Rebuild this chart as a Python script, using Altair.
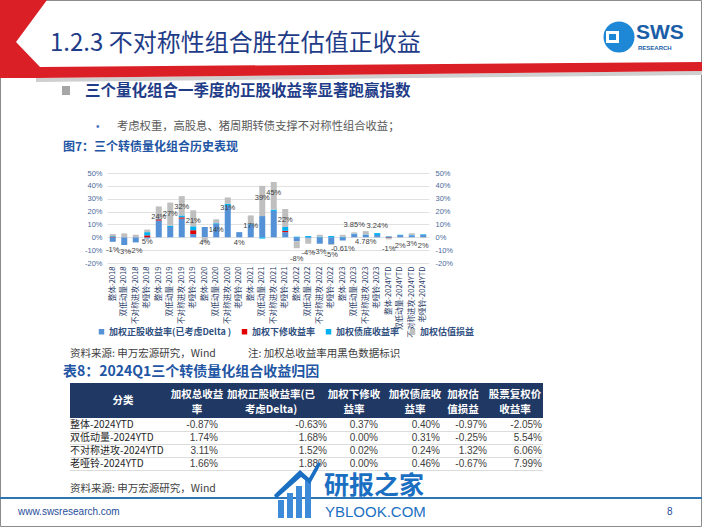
import altair as alt
import pandas as pd

# ---------------- data ----------------
categories = [
    "整体-2018", "双低动量-2018", "不对称进攻-2018", "老哑铃-2018",
    "整体-2019", "双低动量-2019", "不对称进攻-2019", "老哑铃-2019",
    "整体-2020", "双低动量-2020", "不对称进攻-2020", "老哑铃-2020",
    "整体-2021", "双低动量-2021", "不对称进攻-2021", "老哑铃-2021",
    "整体-2022", "双低动量-2022", "不对称进攻-2022", "老哑铃-2022",
    "整体-2023", "双低动量-2023", "不对称进攻-2023", "老哑铃-2023",
    "整体-2024YTD", "双低动量-2024YTD", "不对称进攻-2024YTD", "老哑铃-2024YTD",
]
equity = [-3.5, -6.0, -4.0, -1.0, 13.0, 8.0, 14.5, 2.5, 8.0, 10.5, 24.5, 4.0,
          10.0, 16.5, 20.5, 4.0, -3.0, -1.0, -5.0, -5.5, -2.5, 2.5, 2.0, 1.74,
          -0.63, 1.68, 1.52, 1.88]
downrev = [0.5, 0.0, 0.0, 1.5, 1.0, 0.0, 1.0, 3.0, 0.0, 0.0, 0.0, 0.0,
           0.0, 0.0, 0.0, 1.0, 0.0, 0.0, 0.0, 0.0, 0.0, 0.0, 0.0, 0.0,
           0.37, 0.00, 0.02, 0.00]
bondfloor = [0.5, 0.0, 0.0, 2.5, 0.5, 1.0, 1.5, 3.0, 0.0, 0.5, 1.5, 0.0,
             0.5, -1.0, 1.0, 3.0, 0.5, 1.0, 0.5, 1.0, 0.39, 0.35, 0.28, 1.5,
             0.40, 0.31, 0.24, 0.46]
valuation = [1.5, 3.0, 2.0, 2.0, 9.5, 18.0, 15.0, 12.5, -4.0, 3.0, 5.0, 0.0,
             6.5, 23.5, 21.5, 14.0, -5.5, -4.0, 1.5, -0.5, 1.5, 1.0, 2.5, 0.0,
             -0.97, -0.25, 1.32, -0.67]
total_labels = ["-1%", "-3%", "-2%", "5%", "24%", "27%", "32%", "21%",
                "4%", "14%", "31%", "4%", "17%", "39%", "45%", "22%",
                "-8%", "-4%", "-3%", "-5%", "-0.61%", "3.85%", "4.78%", "3.24%",
                "-1%", "2%", "3%", "2%"]
labels_above = ["双低动量-2023", "老哑铃-2023"]
series_names = ["加权正股收益率(已考虑Delta )", "加权下修收益率", "加权债底收益率", "加权估值损益"]
series_colors = ["#5591D6", "#E00000", "#00B0F0", "#BFBFBF"]
y_ticks = [-20, -10, 0, 10, 20, 30, 40, 50]

table_cats = ["整体-2024YTD", "双低动量-2024YTD", "不对称进攻-2024YTD", "老哑铃-2024YTD"]
tbl_total = ["-0.87%", "1.74%", "3.11%", "1.66%"]
tbl_equity = ["-0.63%", "1.68%", "1.52%", "1.88%"]
tbl_down = ["0.37%", "0.00%", "0.02%", "0.00%"]
tbl_bond = ["0.40%", "0.31%", "0.24%", "0.46%"]
tbl_val = ["-0.97%", "-0.25%", "1.32%", "-0.67%"]
tbl_stock = ["-2.05%", "5.54%", "6.06%", "7.99%"]

# ---------------- tables for the chart ----------------
rows = []
for i, c in enumerate(categories):
    for k, vals in enumerate([equity, downrev, bondfloor, valuation]):
        rows.append({"cat": c, "series": series_names[k], "ord": k, "value": vals[i]})
df = pd.DataFrame(rows)
tot = pd.DataFrame({
    "cat": categories,
    "total": [equity[i] + downrev[i] + bondfloor[i] + valuation[i] for i in range(len(categories))],
    "label": total_labels,
    "above": [c in labels_above for c in categories],
})

CJK = "Noto Sans CJK SC"
LAT = "Liberation Sans"
NARROW = "Liberation Sans Narrow, Liberation Sans"
AXC = "#4A6A9A"
OX, OY = 107, 173  # page position of the plot origin

yscale = alt.Scale(domain=[-20, 50], nice=False, zero=False)
xenc = alt.X("cat:N", sort=categories,
             scale=alt.Scale(paddingInner=0, paddingOuter=0),
             axis=alt.Axis(title=None, labelAngle=-90, labelFontSize=7.6, labelColor="#1F3864",
                           labelFont=CJK, domain=False, ticks=False, labelPadding=3,
                           labelOverlap=False, labelBound=False, labelLimit=200))

bars = alt.Chart(df).mark_bar(size=6).encode(
    x=xenc,
    y=alt.Y("value:Q", stack="zero", scale=yscale,
            axis=alt.Axis(title=None, values=y_ticks, labelExpr="datum.value + '%'",
                          labelFontSize=7.5, labelColor=AXC, labelFont=LAT, domain=False,
                          ticks=False, gridColor="#D9D9D9", gridWidth=0.8, labelPadding=5)),
    color=alt.Color("series:N", scale=alt.Scale(domain=series_names, range=series_colors),
                    legend=alt.Legend(title=None, orient="none", legendX=-10, legendY=154,
                                      direction="horizontal", columns=4, symbolType="square",
                                      symbolSize=30, symbolStrokeWidth=0, labelFontSize=9,
                                      labelFontWeight="bold", labelColor="#2F4F7F",
                                      labelFont=CJK, columnPadding=8, labelOffset=3)),
    order=alt.Order("ord:Q"),
)

right_axis = alt.Chart(tot).mark_point(opacity=0).encode(
    x=alt.X("cat:N", sort=categories),
    y=alt.Y("total:Q", scale=yscale,
            axis=alt.Axis(orient="right", title=None, values=y_ticks,
                          labelExpr="datum.value + '%'", grid=False, domain=False, ticks=False,
                          labelFontSize=7.5, labelColor=AXC, labelFont=LAT, labelPadding=6)),
)

lab_below = alt.Chart(tot).transform_filter("!datum.above").mark_text(
    dy=11, fontSize=7.5, color="#404040", font=LAT).encode(
    x=alt.X("cat:N", sort=categories),
    y=alt.Y("total:Q", scale=yscale, axis=None),
    text="label:N")
lab_above = alt.Chart(tot).transform_filter("datum.above").mark_text(
    dy=-7, fontSize=7.5, color="#404040", font=LAT).encode(
    x=alt.X("cat:N", sort=categories),
    y=alt.Y("total:Q", scale=yscale, axis=None),
    text="label:N")

# ---------------- slide decoration helpers ----------------
ONE = alt.Data(values=[{"k": 1}])


def text_at(s, x, y, size, color, weight="normal", align="left", font=CJK, baseline="middle"):
    return alt.Chart(ONE).mark_text(text=s, fontSize=size, color=color, fontWeight=weight,
                                    align=align, baseline=baseline, font=font).encode(
        x=alt.value(x - OX), y=alt.value(y - OY))


def rect_at(x1, y1, x2, y2, fill, stroke=None, sw=0, fill_opacity=1):
    kw = dict(fill=fill, fillOpacity=fill_opacity, strokeWidth=sw)
    if stroke:
        kw["stroke"] = stroke
    return alt.Chart(ONE).mark_rect(**kw).encode(
        x=alt.value(x1 - OX), x2=alt.value(x2 - OX),
        y=alt.value(y1 - OY), y2=alt.value(y2 - OY))


def shape_at(path, fill):
    return alt.Chart(ONE).mark_point(shape=path, size=4, filled=True, color=fill,
                                     opacity=1, strokeWidth=0).encode(
        x=alt.value(-OX), y=alt.value(-OY))


def dot_at(x, y, diam, fill):
    return alt.Chart(ONE).mark_point(shape="circle", size=diam * diam, filled=True,
                                     color=fill, opacity=1, strokeWidth=0).encode(
        x=alt.value(x - OX), y=alt.value(y - OY))


BLUE_T = "#1F3C88"
deco = []
# slide frame
deco.append(rect_at(0.5, 0.5, 701.5, 526.5, "white", stroke="#8C8C8C", sw=1, fill_opacity=0))
# red banner with shadow
deco.append(shape_at("M36,78 L702,71 L702,75 L36,82 Z", "#CFCFCF"))
deco.append(shape_at("M0,0 L47,0 L16,42 L40,67 L702,62 L702,71 L36,78 L0,78 Z", "#DA1F26"))
# title
deco.append(text_at("1.2.3 不对称性组合胜在估值正收益", 50, 44, 24, BLUE_T))
# logo
deco.append(dot_at(619, 37, 31, "#1E88D6"))
deco.append(rect_at(606, 31, 619, 43, "white"))
deco.append(rect_at(609, 34, 616, 40, "#1E88D6"))
deco.append(text_at("SWS", 636, 33, 21, "#1A5EA8", weight="bold", font=LAT))
deco.append(text_at("RESEARCH", 638, 48, 6, "#1A5EA8", weight="bold", font=LAT))
# subtitle
deco.append(rect_at(62, 86, 70, 95, "#A6A6A6"))
deco.append(text_at("三个量化组合一季度的正股收益率显著跑赢指数", 85, 91, 15.5, BLUE_T, weight="bold"))
deco.append(text_at("•", 96, 127, 10, "#4472C4", font=LAT))
deco.append(text_at("考虑权重，高股息、猪周期转债支撑不对称性组合收益；", 117, 127, 11.3, "#595959"))
deco.append(text_at("图7：三个转债量化组合历史表现", 63, 147, 12, "#2255A4", weight="bold"))
# notes
deco.append(text_at("资料来源: 申万宏源研究，Wind", 70, 354, 10.5, "#404040"))
deco.append(text_at("注: 加权总收益率用黑色数据标识", 248, 354, 10.5, "#404040"))
deco.append(text_at("表8：2024Q1三个转债量化组合收益归因", 63, 372, 14, "#2255A4", weight="bold"))

# table
deco.append(rect_at(70, 383, 543, 418, "#1F3864"))
HW = "white"
deco.append(text_at("分类", 123, 401, 10.5, HW, weight="bold", align="center"))
headers = [("加权总收益", "率", 197), ("加权正股收益率(已", "考虑Delta)", 271),
           ("加权下修收", "益率", 354), ("加权债底收", "益率", 415),
           ("加权估", "值损益", 463), ("股票复权价", "收益率", 515)]
for h1, h2, hx in headers:
    deco.append(text_at(h1, hx, 395, 10.5, HW, weight="bold", align="center"))
    deco.append(text_at(h2, hx, 410, 10.5, HW, weight="bold", align="center"))
tbl_right = [218, 327, 378, 440, 487, 542]
row_y = [425, 438, 451, 464]
cols = [tbl_total, tbl_equity, tbl_down, tbl_bond, tbl_val, tbl_stock]
for r in range(len(table_cats)):
    deco.append(rect_at(70, row_y[r] + 6, 543, row_y[r] + 6.8, "#D0D0D0"))
    deco.append(text_at(table_cats[r], 70, row_y[r], 10, "#262626"))
    for j, col in enumerate(cols):
        deco.append(text_at(col[r], tbl_right[j], row_y[r], 10, "#404040", align="right", font=NARROW))

deco.append(text_at("资料来源: 申万宏源研究，Wind", 70, 489, 10.5, "#404040"))
# footer
deco.append(rect_at(0, 497, 702, 499, "#2E75B6"))
deco.append(text_at("www.swsresearch.com", 18, 512, 10, "#1F4E9A", font=LAT))
deco.append(text_at("8", 667, 512, 10, "#1F4E9A", font=LAT))
# watermark
for bx, top in [(278, 500), (287, 493), (296, 486), (305, 479)]:
    deco.append(rect_at(bx, top, bx + 6, 518, "#3D8BD8"))
deco.append(shape_at("M274,495 L300,470 L309,478 L318,462 L321,464 L310,484 L301,477 L276,499 Z", "#1B6FC2"))
deco.append(text_at("研报之家", 324, 486, 25, "#1B6FC2", weight="bold"))
deco.append(text_at("YBLOOK.COM", 325, 512, 15, "#1B6FC2", font=LAT))

chart = alt.layer(bars, lab_below, lab_above, right_axis, *deco).resolve_scale(
    y="independent"
).properties(
    width=322, height=90,
    autosize=alt.AutoSizeParams(type="none"),
    padding={"left": OX, "top": OY, "right": 702 - OX - 322, "bottom": 527 - OY - 90},
    background="white",
).configure_view(stroke=None)

chart.save("out.html", embed_options={"renderer": "svg", "actions": False})
